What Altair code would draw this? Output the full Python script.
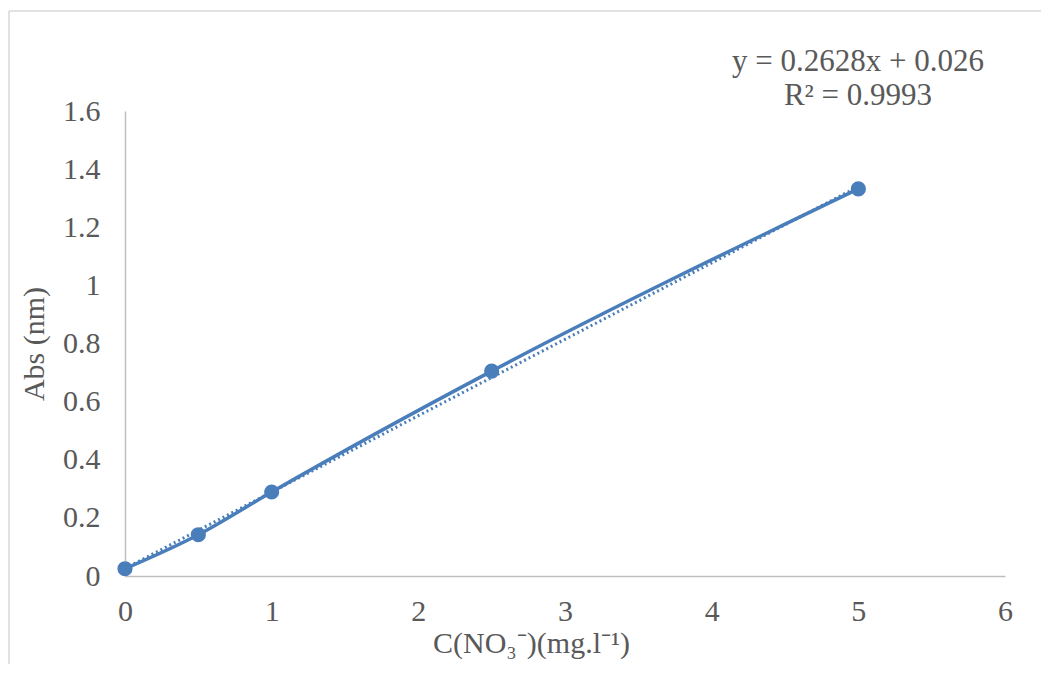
import altair as alt
import pandas as pd

# data
conc = [0, 0.5, 1, 2.5, 5]
absorb = [0.025, 0.142, 0.289, 0.705, 1.332]
slope = [0.2628]
intercept = [0.026]
trend_x = [0, 5]
x_ticks = [0, 1, 2, 3, 4, 5, 6]
y_ticks = [0, 0.2, 0.4, 0.6, 0.8, 1.0, 1.2, 1.4, 1.6]
eq_lines = ["y = 0.2628x + 0.026", "R² = 0.9993"]

BLUE = "#4A7EBB"
GRAY = "#595959"
FONT = "Liberation Serif"
W, H = 880, 465

df = pd.DataFrame({"x": conc, "y": absorb})
trend = pd.DataFrame({"x": trend_x, "y": [slope[0] * v + intercept[0] for v in trend_x]})

xs = alt.Scale(domain=[0, 6], nice=False)
ys = alt.Scale(domain=[0, 1.6], nice=False)

xax = alt.Axis(values=x_ticks, format="~g", labelFlush=False, title="C(NO₃⁻)(mg.l⁻¹)",
               grid=False, ticks=False,
               domainColor="#BFBFBF", domainWidth=1.5, labelColor=GRAY, labelFont=FONT,
               labelFontSize=30, labelPadding=20, titleFont=FONT, titleFontSize=30,
               titleFontWeight="normal", titleColor=GRAY, titleX=406, titleY=76,
               titleBaseline="alphabetic", titleAlign="center")
yax = alt.Axis(values=y_ticks, format="~g", labelFlush=False, title="Abs (nm)", grid=False,
               ticks=False,
               domainColor="#BFBFBF", domainWidth=1.5, labelColor=GRAY, labelFont=FONT,
               labelFontSize=30, labelPadding=25, titleFont=FONT, titleFontSize=30,
               titleFontWeight="normal", titleColor=GRAY, titlePadding=13)

base = alt.Chart(df)

trend_line = alt.Chart(trend).mark_line(color=BLUE, strokeWidth=3, strokeDash=[2, 3]).encode(
    x=alt.X("x:Q", scale=xs, axis=xax), y=alt.Y("y:Q", scale=ys, axis=yax))

smooth = base.mark_line(color=BLUE, strokeWidth=3.5, interpolate="monotone").encode(
    x=alt.X("x:Q", scale=xs), y=alt.Y("y:Q", scale=ys))

pts = base.mark_circle(color=BLUE, size=230, opacity=1).encode(
    x=alt.X("x:Q", scale=xs), y=alt.Y("y:Q", scale=ys))

eq1 = alt.Chart(pd.DataFrame({"t": [eq_lines[0]]})).mark_text(
    font=FONT, fontSize=31, color=GRAY, align="center", baseline="alphabetic").encode(
    text="t:N", x=alt.value(733), y=alt.value(-40))
eq2 = alt.Chart(pd.DataFrame({"t": [eq_lines[1]]})).mark_text(
    font=FONT, fontSize=31, color=GRAY, align="center", baseline="alphabetic").encode(
    text="t:N", x=alt.value(733), y=alt.value(-6))

border_top = alt.Chart(pd.DataFrame({"a": [0]})).mark_rule(color="#D9D9D9", strokeWidth=1.5).encode(
    x=alt.value(-116), x2=alt.value(940), y=alt.value(-100))
border_left = alt.Chart(pd.DataFrame({"a": [0]})).mark_rule(color="#D9D9D9", strokeWidth=1.5).encode(
    x=alt.value(-116), y=alt.value(-100), y2=alt.value(570))

chart = alt.layer(trend_line, smooth, pts, eq1, eq2, border_top, border_left).properties(
    width=W, height=H,
    autosize=alt.AutoSizeParams(type="none"),
    padding={"left": 117, "top": 103, "right": 36, "bottom": 88},
).configure_view(stroke=None)

chart.save("out.html", embed_options={"renderer": "svg", "actions": False})
